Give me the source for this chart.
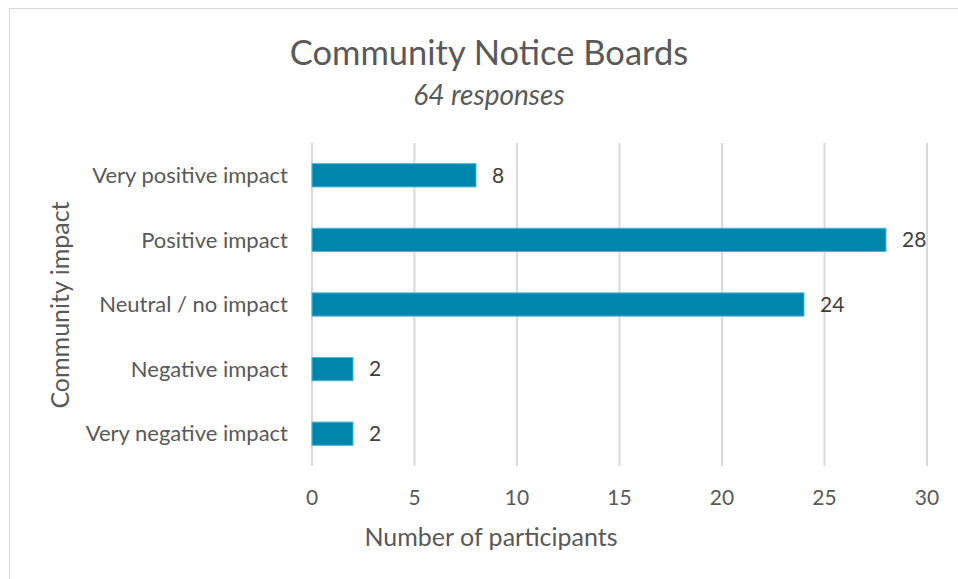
<!DOCTYPE html>
<html lang="en">
  <head>
    <meta charset="UTF-8" />
    <title>Community Notice Boards</title>
    <script src="https://d3js.org/d3.v7.min.js"></script>
    <style>
      body {
        margin: 0;
        background: white;
      }
      svg text {
        font-family: Lato, "Open Sans", sans-serif;
      }
    </style>
  </head>
  <body>
    <script>
      const categories = [
        "Very positive impact",
        "Positive impact",
        "Neutral / no impact",
        "Negative impact",
        "Very negative impact"
      ];
      const counts = [8, 28, 24, 2, 2];
      const xTicks = [0, 5, 10, 15, 20, 25, 30];

      const width = 958;
      const height = 579;
      const margin = { top: 143, left: 312, right: 31, bottom: 113 };

      const svg = d3
        .select("body")
        .append("svg")
        .attr("width", width)
        .attr("height", height);

      // outer frame, runs off the right and bottom edge
      svg
        .append("rect")
        .attr("x", 9.5)
        .attr("y", 8.5)
        .attr("width", width + 20)
        .attr("height", height + 20)
        .attr("fill", "none")
        .attr("stroke", "#d9d9d9")
        .attr("stroke-width", 1);

      const x = d3
        .scaleLinear()
        .domain([0, 30])
        .range([margin.left, width - margin.right]);

      const y = d3
        .scaleBand()
        .domain(categories)
        .range([margin.top, height - margin.bottom])
        .paddingInner(0.64)
        .paddingOuter(0.32);

      // grid
      svg
        .append("g")
        .selectAll("line")
        .data(xTicks)
        .join("line")
        .attr("x1", (d) => x(d))
        .attr("x2", (d) => x(d))
        .attr("y1", margin.top)
        .attr("y2", height - margin.bottom)
        .attr("stroke", "#d9d9d9")
        .attr("stroke-width", 2);

      // x tick labels
      svg
        .append("g")
        .selectAll("text")
        .data(xTicks)
        .join("text")
        .attr("x", (d) => x(d))
        .attr("y", 498)
        .attr("dy", "0.35em")
        .attr("text-anchor", "middle")
        .attr("fill", "#595959")
        .attr("font-size", 21)
        .text((d) => d);

      // category labels
      svg
        .append("g")
        .selectAll("text")
        .data(categories)
        .join("text")
        .attr("x", 288)
        .attr("y", (d) => y(d) + y.bandwidth() / 2)
        .attr("dy", "0.35em")
        .attr("text-anchor", "end")
        .attr("fill", "#595959")
        .attr("font-size", 22)
        .text((d) => d);

      // bars
      svg
        .append("g")
        .selectAll("rect")
        .data(counts)
        .join("rect")
        .attr("x", x(0))
        .attr("y", (d, i) => y(categories[i]))
        .attr("width", (d) => x(d) - x(0))
        .attr("height", y.bandwidth())
        .attr("fill", "#0086ad")
        .attr("stroke", "#4fb3d3")
        .attr("stroke-width", 1);

      // value labels
      svg
        .append("g")
        .selectAll("text")
        .data(counts)
        .join("text")
        .attr("x", (d) => x(d) + 16)
        .attr("y", (d, i) => y(categories[i]) + y.bandwidth() / 2)
        .attr("dy", "0.35em")
        .attr("fill", "#404040")
        .attr("font-size", 21)
        .text((d) => d);

      // titles
      svg
        .append("text")
        .attr("x", 489)
        .attr("y", 53)
        .attr("dy", "0.35em")
        .attr("text-anchor", "middle")
        .attr("fill", "#595959")
        .attr("font-size", 34.5)
        .text("Community Notice Boards");

      svg
        .append("text")
        .attr("x", 489)
        .attr("y", 95)
        .attr("dy", "0.35em")
        .attr("text-anchor", "middle")
        .attr("fill", "#595959")
        .attr("font-size", 28)
        .attr("font-style", "italic")
        .text("64 responses");

      svg
        .append("text")
        .attr("x", 491)
        .attr("y", 537)
        .attr("dy", "0.35em")
        .attr("text-anchor", "middle")
        .attr("fill", "#595959")
        .attr("font-size", 25)
        .text("Number of participants");

      svg
        .append("text")
        .attr("transform", "translate(60,305) rotate(-90)")
        .attr("dy", "0.35em")
        .attr("text-anchor", "middle")
        .attr("fill", "#595959")
        .attr("font-size", 25)
        .text("Community impact");
    </script>
  </body>
</html>
